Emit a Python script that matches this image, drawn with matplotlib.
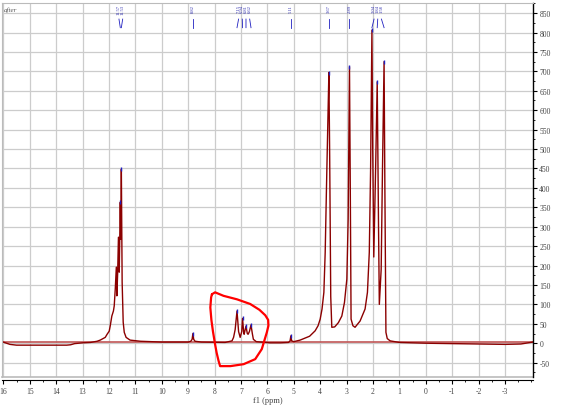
import numpy as np
import matplotlib
matplotlib.use("Agg")
import matplotlib.pyplot as plt
from matplotlib.ticker import MultipleLocator

plt.rcParams['font.family'] = ['Liberation Serif', 'DejaVu Serif']
plt.rcParams['axes.unicode_minus'] = False

# --- spectrum (ppm, intensity) ---
ppm = [16.05, 15.75, 15.5, 14.5, 13.6, 13.45, 13.3, 13.0, 12.7, 12.45, 12.33, 12.14, 12.07,
       11.99, 11.95, 11.89, 11.83, 11.80, 11.76, 11.72, 11.70, 11.67, 11.64, 11.61, 11.57,
       11.55, 11.53, 11.50, 11.46, 11.42, 11.35, 11.20, 10.8, 10.0, 9.0, 8.9, 8.85, 8.82,
       8.79, 8.74, 8.5, 7.6, 7.34, 7.28, 7.22, 7.15, 7.09, 7.03, 6.97, 6.94, 6.90, 6.88,
       6.81, 6.76, 6.73, 6.68, 6.62, 6.57, 6.53, 6.42, 5.9, 5.5, 5.2, 5.14, 5.11, 5.08,
       5.0, 4.76, 4.4, 4.19, 4.08, 4.0, 3.93, 3.86, 3.81, 3.76, 3.70, 3.67, 3.64, 3.60,
       3.56, 3.45, 3.31, 3.18, 3.08, 2.99, 2.94, 2.89, 2.86, 2.83, 2.76, 2.68, 2.49, 2.30,
       2.21, 2.14, 2.09, 2.04, 2.01, 1.97, 1.90, 1.84, 1.81, 1.79, 1.76, 1.69, 1.64, 1.58,
       1.55, 1.51, 1.46, 1.35, 1.0, 0.0, -1.0, -2.0, -3.0, -3.6, -4.06]
intensity = [4, -3, -5, -5, -5, -4, -1, 1, 2, 5, 8, 15, 23,
             31, 45, 70, 83, 96, 140, 196, 122, 180, 273, 183, 363,
             268, 448, 157, 54, 28, 15, 8, 5, 3, 3, 5, 10, 25,
             10, 5, 3, 2, 6, 15, 35, 83, 30, 15, 30, 64, 30, 23,
             44, 25, 23, 30, 47, 25, 10, 4, 1, 1, 2, 6, 19, 6,
             4, 8, 18, 32, 45, 62, 88, 131, 234, 405, 600, 697, 480, 120,
             41, 42, 53, 70, 105, 165, 320, 712, 400, 62, 45, 41, 57, 88,
             131, 234, 450, 806, 500, 222, 450, 673, 450, 300, 100, 190, 450, 725,
             400, 28, 12, 6, 2, 0, -1, -2, -3, -2, 3]

# picked peaks, grouped the way the labels are drawn
peak_groups = [[11.57, 11.53], [8.82], [7.15, 6.94, 6.81, 6.62], [5.11], [3.67], [2.89],
               [2.04, 1.84, 1.58]]

# hand-drawn red loop around the aromatic region
loop_ppm = [8.10, 7.98, 7.66, 7.15, 6.65, 6.30, 6.08, 5.97, 5.96, 6.02, 6.10, 6.21, 6.46,
            6.90, 7.40, 7.79, 7.85, 7.92, 7.98, 8.06, 8.12, 8.16, 8.13, 8.10]
loop_val = [126, 131, 122, 113, 101, 86, 72, 60, 45, 28, 10, -15, -41,
            -54, -59, -59, -45, -25, -3, 30, 60, 92, 118, 126]

fig = plt.figure(figsize=(5.63, 4.06), dpi=100)
ax = fig.add_axes([2 / 563, 1 - 378 / 406, 531 / 563, 374 / 406])

x_left, x_right = 16.05, -4.06
y_low, y_high = -87, 876
ax.set_xlim(x_left, x_right)
ax.set_ylim(y_low, y_high)

# grid + frame
ax.set_xticks(np.arange(16, -4, -1))
ax.set_yticks(np.arange(-50, 851, 50))
ax.xaxis.set_minor_locator(MultipleLocator(0.5))
ax.yaxis.set_minor_locator(MultipleLocator(25))
ax.grid(True, which='major', color='#cccccc', lw=0.9)
ax.set_axisbelow(True)
for side in ['left', 'top']:
    ax.spines[side].set_color('#bbbbbb')
ax.axhline(y_low, color='#bbbbbb', lw=1.2, clip_on=False)
ax.spines['right'].set_color('black')
ax.spines['right'].set_linewidth(1.0)
ax.spines['bottom'].set_color('black')
ax.spines['bottom'].set_position(('outward', 2.5))

ax.yaxis.tick_right()
ax.tick_params(axis='both', which='major', length=3, width=0.8, labelsize=5.5,
               labelcolor='#444444', pad=1.5, direction='out')
ax.tick_params(axis='both', which='minor', length=1.5, width=0.6, direction='out')
ax.set_xticklabels([str(v) for v in range(16, -4, -1)])
ax.set_xlabel('f1 (ppm)', fontsize=6, color='#444444', labelpad=1)

# baseline line and spectrum
ax.axhline(3, color='#c05555', lw=1.4, alpha=0.85)
ax.plot(ppm, intensity, color='#8b0000', lw=1.0)

# peak tips and labels
ppm_arr = np.array(ppm)[::-1]
int_arr = np.array(intensity)[::-1]
trans = ax.get_xaxis_transform()
px_per_ppm = 531 / (x_left - x_right)
spacing = 3.7 / px_per_ppm
for group in peak_groups:
    center = np.mean(group)
    n = len(group)
    for i, p in enumerate(group):
        h = np.interp(p, ppm_arr, int_arr)
        ax.plot([p], [h], marker='|', ms=3, mew=1.0, color='#2020c0', zorder=5)
        lx = center + ((n - 1) / 2 - i) * spacing
        ax.plot([lx, p], [0.957, 0.934], color='#2020c0', lw=0.6, transform=trans)
        ax.text(lx, 0.997, f'{p:.2f}', rotation=90, ha='center', va='top', fontsize=3.3,
                color='#3030b0', transform=trans)

# red annotation loop
ax.plot(loop_ppm, loop_val, color='red', lw=1.6, solid_joinstyle='round',
        solid_capstyle='round', zorder=6)

ax.text(0.003, 0.99, 'after', transform=ax.transAxes, fontsize=5, style='italic',
        color='#555555', ha='left', va='top')

fig.savefig('out.png', dpi=100)
